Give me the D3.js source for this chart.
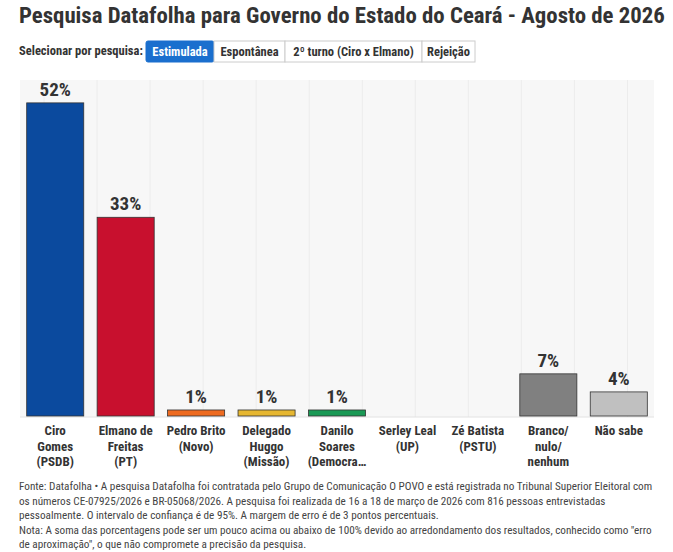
<!DOCTYPE html><html><head><meta charset="utf-8">
<script src="https://cdn.jsdelivr.net/npm/d3@7"></script>
<style>body{margin:0;background:#fff;}</style></head><body>
<svg id="c" width="673" height="552"></svg>
<script>
const categories=[["Ciro","Gomes","(PSDB)"],["Elmano de","Freitas","(PT)"],["Pedro Brito","(Novo)"],["Delegado","Huggo","(Missão)"],["Danilo","Soares","(Democra…"],["Serley Leal","(UP)"],["Zé Batista","(PSTU)"],["Branco/","nulo/","nenhum"],["Não sabe"]];
const values=[52,33,1,1,1,0,0,7,4];
const colors=["#0b4a9e","#c8102e","#ee6b20","#e6b731","#1a9955","#888","#888","#808080","#c0c0c0"];
const buttons=["Estimulada","Espontânea","2º turno (Ciro x Elmano)","Rejeição"];
const svg=d3.select("#c");
const ff='"Roboto Condensed","Liberation Sans Narrow",Roboto,sans-serif';
svg.append("text").attr("x",19).attr("y",23).attr("font-size",22.8).attr("font-weight","bold").attr("fill","#333").attr("font-family",ff).text("Pesquisa Datafolha para Governo do Estado do Ceará - Agosto de 2026");
svg.append("text").attr("x",19).attr("y",55).attr("font-size",12.5).attr("font-weight","bold").attr("fill","#333").attr("font-family",ff).text("Selecionar por pesquisa:");
let bx=146;const bw=[68,71,137,53];
buttons.forEach((b,i)=>{
 svg.append("rect").attr("x",bx).attr("y",41).attr("width",bw[i]).attr("height",21).attr("fill",i==0?"#1a6fce":"#fff").attr("stroke",i==0?"#1a6fce":"#ccc").attr("rx",i==0?2:0);
 svg.append("text").attr("x",bx+bw[i]/2).attr("y",55.5).attr("text-anchor","middle").attr("font-size",12.5).attr("font-weight","bold").attr("fill",i==0?"#fff":"#333").attr("font-family",ff).text(b);
 bx+=bw[i];
});
const x=d3.scaleBand().domain(d3.range(categories.length)).range([20,654]).paddingInner(0.19).paddingOuter(0.095);
const y=d3.scaleLinear().domain([0,55.8]).range([416,80]);
svg.append("rect").attr("x",20).attr("y",80).attr("width",634).attr("height",337).attr("fill","#f7f7f7");
const gx=d3.scaleLinear().domain([0,11.5]).range([44,654]);
svg.selectAll(".g").data(d3.range(0,12)).join("line").attr("x1",d=>gx(d)).attr("x2",d=>gx(d)).attr("y1",80).attr("y2",417).attr("stroke","#ececec");
svg.append("line").attr("x1",20).attr("x2",654).attr("y1",417).attr("y2",417).attr("stroke","#e2e2e2");
values.forEach((v,i)=>{
 if(v>0){
  svg.append("rect").attr("x",x(i)).attr("y",y(v)).attr("width",x.bandwidth()).attr("height",416-y(v)).attr("fill",colors[i]).attr("stroke","#333").attr("stroke-width",0.8);
  svg.append("text").attr("x",x(i)+x.bandwidth()/2).attr("y",y(v)-7).attr("text-anchor","middle").attr("font-size",19).attr("font-weight","bold").attr("fill","#333").attr("font-family",ff).text(v+"%");
 }
 const t=svg.append("text").attr("text-anchor","middle").attr("font-size",13).attr("font-weight","bold").attr("fill","#333").attr("font-family",ff);
 categories[i].forEach((l,j)=>t.append("tspan").attr("x",x(i)+x.bandwidth()/2).attr("y",435+j*15.5).text(l));
});
const notes=["Fonte: Datafolha • A pesquisa Datafolha foi contratada pelo Grupo de Comunicação O POVO e está registrada no Tribunal Superior Eleitoral com","os números CE-07925/2026 e BR-05068/2026. A pesquisa foi realizada de 16 a 18 de março de 2026 com 816 pessoas entrevistadas","pessoalmente. O intervalo de confiança é de 95%. A margem de erro é de 3 pontos percentuais.","Nota: A soma das porcentagens pode ser um pouco acima ou abaixo de 100% devido ao arredondamento dos resultados, conhecido como \"erro","de aproximação\", o que não compromete a precisão da pesquisa."];
notes.forEach((n,i)=>svg.append("text").attr("x",19).attr("y",490+i*14.5).attr("font-size",11.2).attr("fill","#444").attr("font-family",ff).text(n));
</script></body></html>
